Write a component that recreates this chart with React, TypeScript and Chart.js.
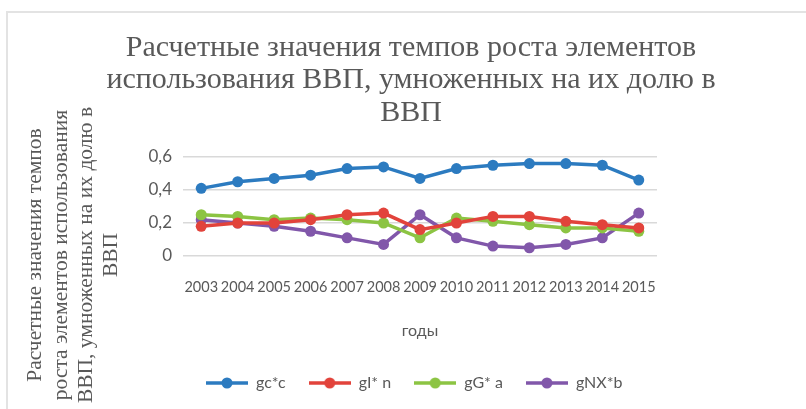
import React, { useEffect, useRef } from "react";
import { Chart, registerables } from "chart.js";

Chart.register(...registerables);

const years = ["2003", "2004", "2005", "2006", "2007", "2008", "2009", "2010", "2011", "2012", "2013", "2014", "2015"];
const seriesNames = ["gc*c", "gI* n", "gG* a", "gNX*b"];
const gcC = [0.41, 0.45, 0.47, 0.49, 0.53, 0.54, 0.47, 0.53, 0.55, 0.56, 0.56, 0.55, 0.46];
const gIn = [0.18, 0.20, 0.20, 0.22, 0.25, 0.26, 0.16, 0.20, 0.24, 0.24, 0.21, 0.19, 0.17];
const gGa = [0.25, 0.24, 0.22, 0.23, 0.22, 0.20, 0.11, 0.23, 0.21, 0.19, 0.17, 0.17, 0.15];
const gNXb = [0.22, 0.20, 0.18, 0.15, 0.11, 0.07, 0.25, 0.11, 0.06, 0.05, 0.07, 0.11, 0.26];
const colors = ["#2C7BC0", "#E2433B", "#8CC443", "#8157AA"];
const titleLines = [
  "Расчетные значения темпов роста элементов",
  "использования ВВП, умноженных на их долю в",
  "ВВП",
];
const yTitleLines = [
  "Расчетные значения темпов",
  "роста элементов использования",
  "ВВП, умноженных на их долю в",
  "ВВП",
];
const xTitle = "годы";

const W = 806;
const H = 409;
const GRAY = "#595959";

function makeLegendIcon(color: string): HTMLCanvasElement {
  const c = document.createElement("canvas");
  c.width = 42;
  c.height = 14;
  const ctx = c.getContext("2d")!;
  ctx.strokeStyle = color;
  ctx.lineWidth = 3.5;
  ctx.beginPath();
  ctx.moveTo(0, 7);
  ctx.lineTo(42, 7);
  ctx.stroke();
  ctx.fillStyle = color;
  ctx.beginPath();
  ctx.arc(21, 7, 5.5, 0, Math.PI * 2);
  ctx.fill();
  return c;
}

const textPlugin = {
  id: "customText",
  beforeDraw(chart: any) {
    const ctx = chart.ctx;
    ctx.save();
    ctx.strokeStyle = "#e3e3e3";
    ctx.lineWidth = 2;
    ctx.strokeRect(7, 12, W + 20, H + 20);
    ctx.restore();
  },
  afterDraw(chart: any) {
    const ctx = chart.ctx;
    ctx.save();
    ctx.fillStyle = GRAY;
    ctx.textAlign = "center";
    ctx.textBaseline = "middle";
    ctx.font = '30px "Liberation Serif", "Times New Roman", serif';
    const tY = [48, 80, 113];
    titleLines.forEach((t, i) => ctx.fillText(t, 411, tY[i]));
    ctx.font = '21.5px "Liberation Serif", "Times New Roman", serif';
    const yX = [35, 61, 86, 111];
    yTitleLines.forEach((t, i) => {
      ctx.save();
      ctx.translate(yX[i], 255);
      ctx.rotate(-Math.PI / 2);
      ctx.fillText(t, 0, 0);
      ctx.restore();
    });
    ctx.restore();
  },
};

export default function App() {
  const ref = useRef<HTMLCanvasElement | null>(null);
  useEffect(() => {
    if (!ref.current) return;
    const data = [gcC, gIn, gGa, gNXb];
    const icons = colors.map((c) => makeLegendIcon(c));
    const chart = new Chart(ref.current, {
      type: "line",
      data: {
        labels: years,
        datasets: data.map((d, i) => ({
          label: seriesNames[i],
          data: d,
          borderColor: colors[i],
          backgroundColor: colors[i],
          pointBackgroundColor: colors[i],
          pointBorderColor: colors[i],
          borderWidth: 3.5,
          pointRadius: 5.5,
          pointBorderWidth: 0,
          tension: 0,
        })),
      },
      options: {
        animation: false,
        responsive: false,
        devicePixelRatio: 1,
        layout: { padding: { top: 157, left: 130, right: 149, bottom: 8 } },
        scales: {
          x: {
            offset: true,
            grid: { display: false, drawTicks: false },
            border: { display: false },
            ticks: {
              color: GRAY,
              font: { family: "Lato", size: 14.5 },
              padding: 23,
              maxRotation: 0,
              autoSkip: false,
            },
            title: {
              display: true,
              text: xTitle,
              color: GRAY,
              font: { family: "Lato", size: 16, lineHeight: 1.2 },
              padding: { top: 0, bottom: 12 },
            },
            afterFit: (s: any) => {
              s.height = 96;
            },
          },
          y: {
            min: 0,
            max: 0.6,
            grid: { color: "#d9d9d9", lineWidth: 1.5, drawTicks: false },
            border: { display: false },
            ticks: {
              stepSize: 0.2,
              color: GRAY,
              font: { family: "Lato", size: 17 },
              padding: 11,
              callback: (v: any) => (Number(v) === 0 ? "0" : Number(v).toFixed(1).replace(".", ",")),
            },
            afterFit: (s: any) => {
              s.width = 53;
            },
          },
        },
        plugins: {
          title: { display: false },
          tooltip: { enabled: false },
          legend: {
            display: true,
            position: "bottom",
            fullSize: false,
            align: "start",
            labels: {
              usePointStyle: true,
              pointStyleWidth: 42,
              padding: 23,
              color: GRAY,
              font: { family: "Lato", size: 16 },
              generateLabels: (c: any) => {
                const items = Chart.defaults.plugins.legend.labels.generateLabels(c);
                return items.map((it: any, i: number) => ({ ...it, pointStyle: icons[i] }));
              },
            },
          },
        },
      },
      plugins: [textPlugin],
    } as any);
    return () => chart.destroy();
  }, []);
  return (
    <div style={{ position: "fixed", left: 0, top: 0, width: W, height: H, background: "#fff", overflow: "hidden" }}>
      <canvas ref={ref} width={W} height={H} style={{ width: W, height: H, display: "block" }} />
    </div>
  );
}
